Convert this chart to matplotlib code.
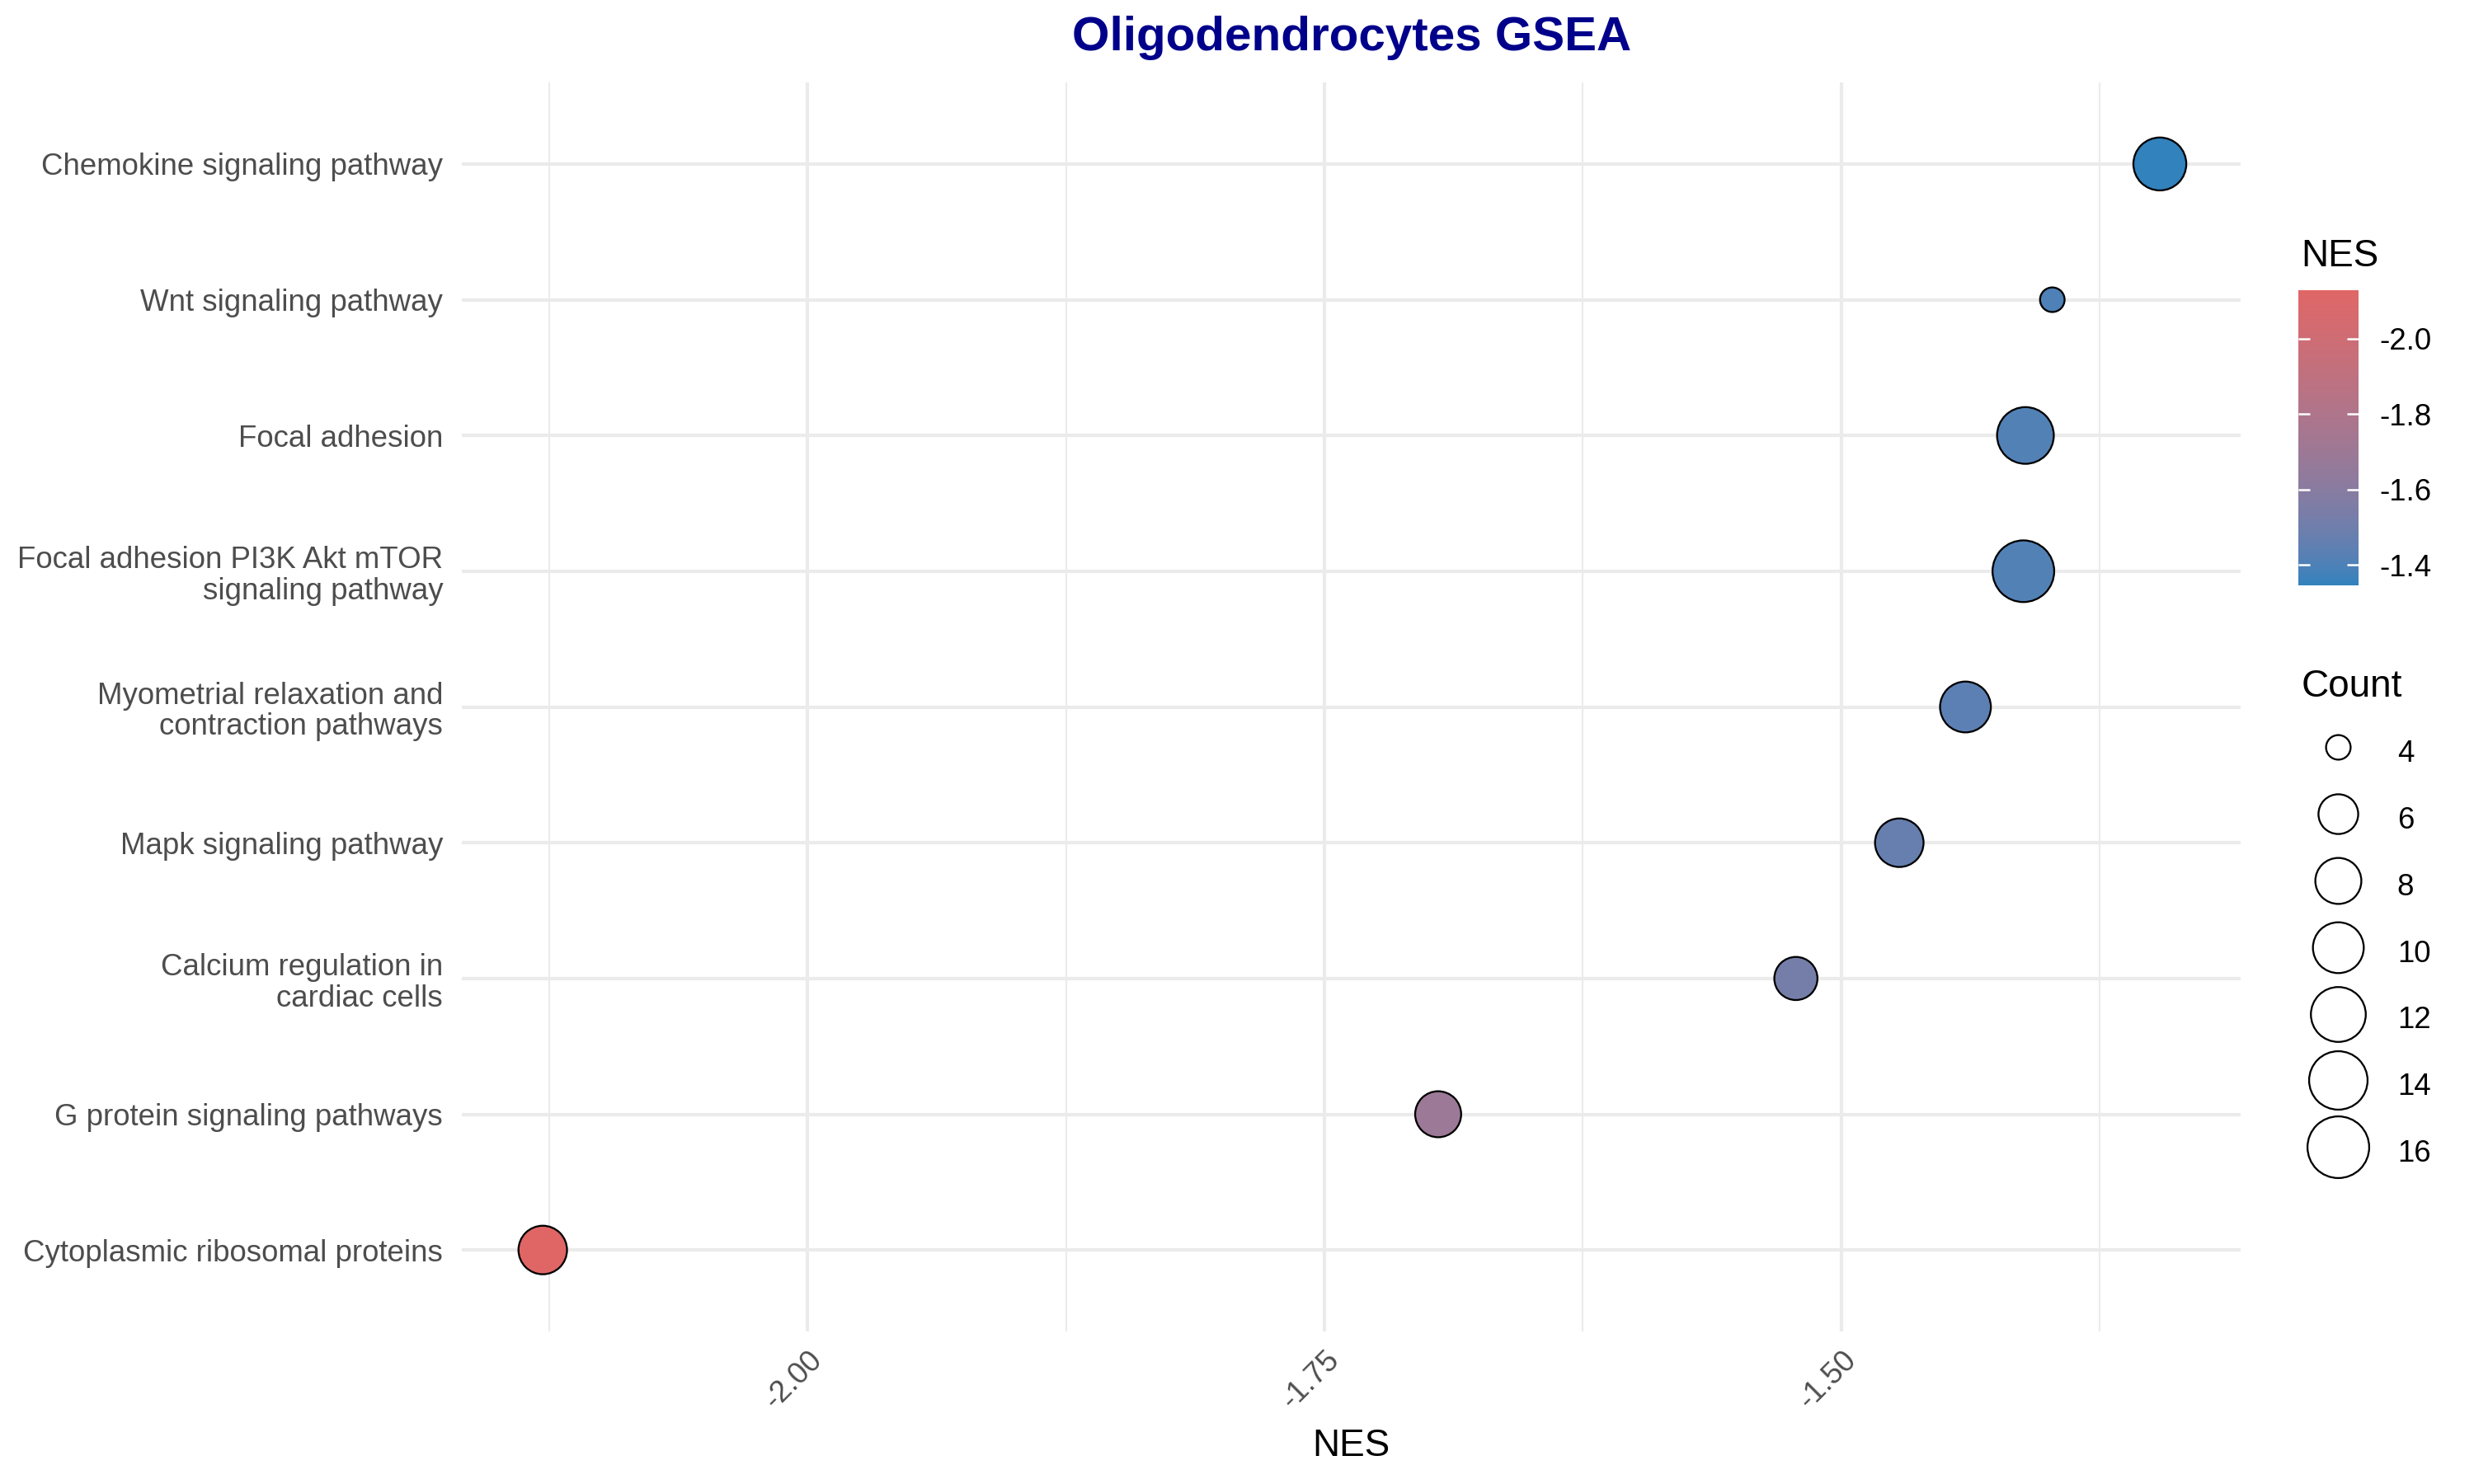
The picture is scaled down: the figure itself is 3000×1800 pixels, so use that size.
import numpy as np
import matplotlib
matplotlib.use("Agg")
import matplotlib.pyplot as plt
import matplotlib.colors as mcolors
from matplotlib.lines import Line2D

plt.rcParams["font.family"] = ["Liberation Sans", "DejaVu Sans"]
plt.rcParams["axes.unicode_minus"] = False

# pathways, listed top to bottom as in the chart
pathways = [
    "Chemokine signaling pathway",
    "Wnt signaling pathway",
    "Focal adhesion",
    "Focal adhesion PI3K Akt mTOR\nsignaling pathway",
    "Myometrial relaxation and\ncontraction pathways",
    "Mapk signaling pathway",
    "Calcium regulation in\ncardiac cells",
    "G protein signaling pathways",
    "Cytoplasmic ribosomal proteins",
]
nes = [-1.346, -1.398, -1.411, -1.412, -1.440, -1.472, -1.522, -1.695, -2.128]
counts = [11, 4, 13, 16, 10, 9, 7, 8, 9]
count_breaks = [4, 6, 8, 10, 12, 14, 16]
nes_breaks = [-2.0, -1.8, -1.6, -1.4]

LOW_COL = "#E06666"
HIGH_COL = "#3182BD"


def hex_to_lab(hexc):
    rgb = np.array(mcolors.to_rgb(hexc))
    lin = np.where(rgb <= 0.04045, rgb / 12.92, ((rgb + 0.055) / 1.055) ** 2.4)
    m = np.array([[0.4124, 0.3576, 0.1805],
                  [0.2126, 0.7152, 0.0722],
                  [0.0193, 0.1192, 0.9505]])
    xyz = m @ lin / np.array([0.95047, 1.0, 1.08883])
    d = 6 / 29
    f = np.where(xyz > d ** 3, np.cbrt(xyz), xyz / (3 * d * d) + 4 / 29)
    return np.array([116 * f[1] - 16, 500 * (f[0] - f[1]), 200 * (f[1] - f[2])])


def lab_to_rgb(lab):
    d = 6 / 29
    fy = (lab[0] + 16) / 116
    f = np.array([fy + lab[1] / 500, fy, fy - lab[2] / 200])
    xyz = np.where(f > d, f ** 3, 3 * d * d * (f - 4 / 29)) * np.array([0.95047, 1.0, 1.08883])
    minv = np.array([[3.2406, -1.5372, -0.4986],
                     [-0.9689, 1.8758, 0.0415],
                     [0.0557, -0.2040, 1.0570]])
    lin = minv @ xyz
    rgb = np.where(lin <= 0.0031308, 12.92 * lin, 1.055 * np.clip(lin, 0, None) ** (1 / 2.4) - 0.055)
    return np.clip(rgb, 0, 1)


# gradient interpolated in Lab, like ggplot's scale_colour_gradient
lab_lo, lab_hi = hex_to_lab(LOW_COL), hex_to_lab(HIGH_COL)
cmap = mcolors.ListedColormap([lab_to_rgb(lab_lo + (lab_hi - lab_lo) * t) for t in np.linspace(0, 1, 256)])
norm = mcolors.Normalize(vmin=min(nes), vmax=max(nes))

# size scale (area-like, as ggplot scale_size)
EDGE_LW = 0.55
D_MIN, D_MAX = 7.7, 18.5
c_lo, c_hi = min(counts), max(counts)


def marker_diam(c):
    return D_MIN + (D_MAX - D_MIN) * np.sqrt((np.asarray(c, float) - c_lo) / (c_hi - c_lo)) - EDGE_LW


fig = plt.figure(figsize=(10, 6), dpi=300)
ax = fig.add_axes([0.1867, 0.1028, 0.9057 - 0.1867, 0.9444 - 0.1028])

ypos = np.arange(len(pathways))[::-1]
ax.scatter(nes, ypos, s=marker_diam(counts) ** 2, c=nes, cmap=cmap, norm=norm,
           edgecolors="black", linewidths=EDGE_LW, zorder=3)

span = max(nes) - min(nes)
ax.set_xlim(min(nes) - 0.05 * span, max(nes) + 0.05 * span)
ax.set_ylim(-0.6, len(pathways) - 1 + 0.6)
ax.set_xticks([-2.0, -1.75, -1.5])
ax.set_xticks([-2.125, -1.875, -1.625, -1.375], minor=True)
ax.set_xticklabels(["-2.00", "-1.75", "-1.50"])
ax.set_yticks(ypos)
ax.set_yticklabels(pathways, linespacing=1.1)

for s in ax.spines.values():
    s.set_visible(False)
ax.tick_params(axis="both", which="both", length=0)
ax.tick_params(axis="y", labelsize=8.8, labelcolor="#4D4D4D", pad=5.5)
ax.tick_params(axis="x", labelsize=8.8, labelcolor="#4D4D4D", pad=4)
for lab in ax.get_xticklabels():
    lab.set_rotation(45)
    lab.set_ha("right")
    lab.set_va("top")
    lab.set_rotation_mode("anchor")

ax.grid(True, which="major", axis="both", color="#EBEBEB", linewidth=1.0, zorder=0)
ax.grid(True, which="minor", axis="x", color="#EBEBEB", linewidth=0.5, zorder=0)
ax.set_axisbelow(True)

ax.set_xlabel("NES", fontsize=11, labelpad=4)
ax.set_title("Oligodendrocytes GSEA", fontsize=14, fontweight="bold", color="#00008B", pad=9.4)

# colour bar
cax = fig.add_axes([0.929, 0.6056, 0.0243, 0.1989])
cb = fig.colorbar(plt.cm.ScalarMappable(norm=norm, cmap=cmap), cax=cax)
cb.outline.set_visible(False)
cb.set_ticks(nes_breaks)
cb.set_ticklabels([f"{v:.1f}" for v in nes_breaks])
cax.invert_yaxis()
cax.tick_params(axis="y", which="both", left=True, right=True, labelleft=False, labelright=True,
                direction="in", length=3.4, width=0.6, color="white", labelsize=8.8,
                labelcolor="black", pad=6)
cax.minorticks_off()
fig.text(0.930, 0.827, "NES", fontsize=11, ha="left", va="center")

# size legend
handles = [Line2D([], [], linestyle="none", marker="o", markersize=float(marker_diam(c)),
                  markerfacecolor="white", markeredgecolor="black", markeredgewidth=EDGE_LW)
           for c in count_breaks]
leg = fig.legend(handles, [str(c) for c in count_breaks], title="Count", loc="upper left",
                 bbox_to_anchor=(0.9303, 0.5496), frameon=False, fontsize=8.8, title_fontsize=11,
                 alignment="left", borderpad=0, borderaxespad=0, handlelength=2.4,
                 handleheight=1.6, labelspacing=0.92, handletextpad=0.76)

fig.savefig("out.png", dpi=300, facecolor="white")
